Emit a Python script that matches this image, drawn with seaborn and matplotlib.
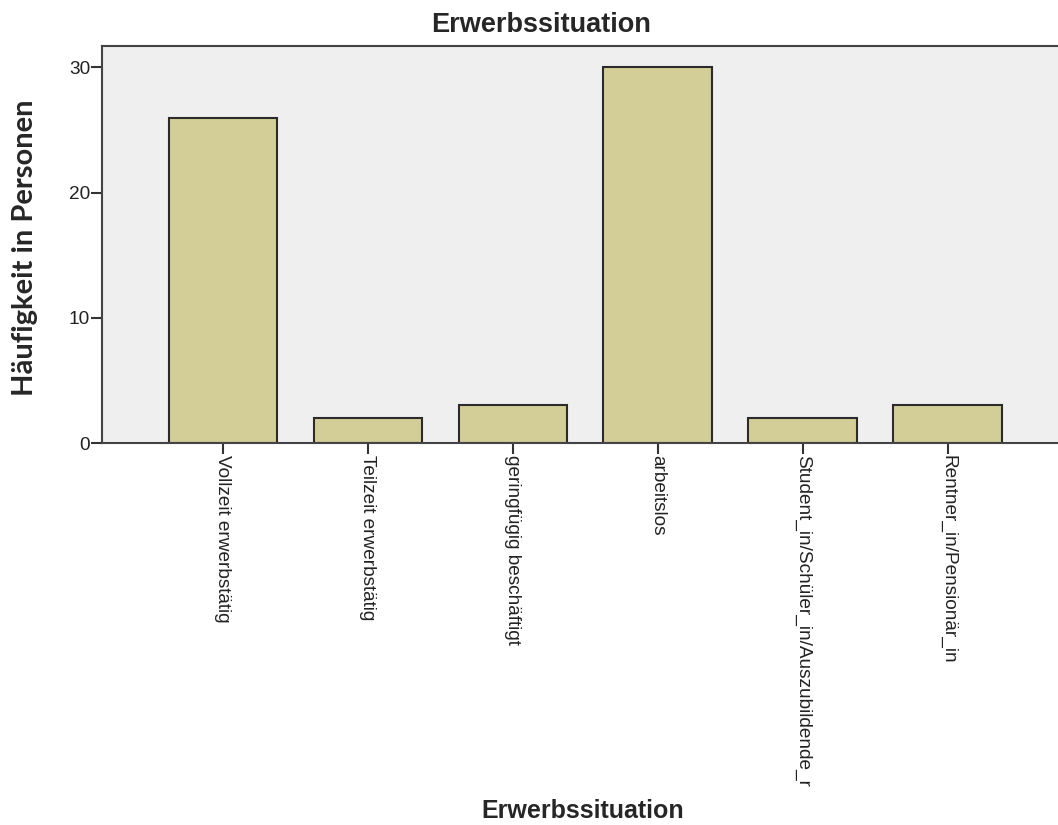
import pandas as pd
import seaborn as sns
import matplotlib.pyplot as plt

# Erwerbssituation counts
categories = [
    "Vollzeit erwerbstätig",
    "Teilzeit erwerbstätig",
    "geringfügig beschäftigt",
    "arbeitslos",
    "Student_in/Schüler_in/Auszubildende_r",
    "Rentner_in/Pensionär_in",
]
counts = [26, 2, 3, 30, 2, 3]
y_ticks = [0, 10, 20, 30]

df = pd.DataFrame({"Erwerbssituation": categories, "Anzahl": counts})

sns.set_theme(style="white")
plt.rcParams["font.family"] = ["Liberation Sans", "DejaVu Sans"]

fig = plt.figure(figsize=(10.58, 8.25), dpi=100)
ax = fig.add_axes([0.0964, 0.463, 0.9036, 0.481])
ax.set_facecolor("#efefef")

sns.barplot(
    data=df,
    x="Erwerbssituation",
    y="Anzahl",
    color="#d3ce97",
    saturation=1,
    edgecolor="#2b2b2b",
    linewidth=1.5,
    width=0.75,
    ax=ax,
)

ax.set_xlim(-0.834, 5.76)
ax.set_ylim(0, 31.7)
ax.set_yticks(y_ticks)
ax.set_yticklabels([str(t) for t in y_ticks], fontsize=13.7, color="#222222")
ax.set_xticks(range(len(categories)))
ax.set_xticklabels(categories, rotation=-90, fontsize=13.7, color="#222222",
                   va="top", ha="center")
ax.tick_params(axis="both", direction="out", length=8, width=1.5, color="#333333",
               pad=0.5, bottom=True, left=True)

for side in ["left", "top", "bottom"]:
    ax.spines[side].set_color("#444444")
    ax.spines[side].set_linewidth(1.5)
ax.spines["right"].set_visible(False)

ax.set_xlabel("")
ax.set_ylabel("")
fig.text(0.551, 0.017, "Erwerbssituation", fontsize=18, fontweight="bold",
         ha="center", va="center")
fig.text(0.024, 0.70, "Häufigkeit in Personen", rotation=90, fontsize=21,
         fontweight="bold", family=["Lato", "DejaVu Sans"], ha="center", va="center")
fig.text(0.511, 0.970, "Erwerbssituation", fontsize=19.5, fontweight="bold",
         ha="center", va="center")

fig.savefig("out.png", dpi=100)
